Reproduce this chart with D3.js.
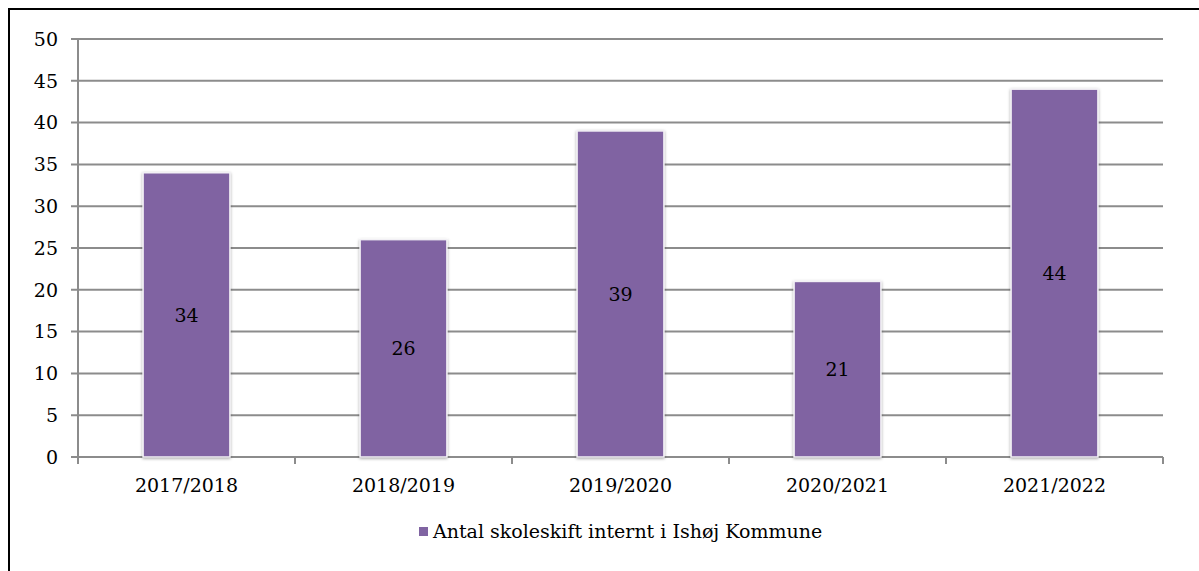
<!DOCTYPE html>
<html>
<head>
<meta charset="utf-8">
<script src="https://cdn.jsdelivr.net/npm/d3@7"></script>
<style>
  body { margin: 0; background: #fff; }
  svg { display: block; font-family: "DejaVu Serif", serif; }
</style>
</head>
<body>
<svg width="1199" height="571"></svg>
<script>
// Chart data
const seasons = ["2017/2018", "2018/2019", "2019/2020", "2020/2021", "2021/2022"];
const schoolChanges = [34, 26, 39, 21, 44];
const yTicks = [0, 5, 10, 15, 20, 25, 30, 35, 40, 45, 50];
const seriesName = "Antal skoleskift internt i Ishøj Kommune";

const BAR_COLOR = "#8064a2";
const GRID_COLOR = "#8c8c8c";

const svg = d3.select("svg");
const W = +svg.attr("width");
const H = +svg.attr("height");
const margin = { top: 39, right: 36, bottom: 114, left: 78 };
const width = W - margin.left - margin.right;
const height = H - margin.top - margin.bottom;

// frame around the figure
svg.append("path")
    .attr("d", `M9,${H} V9 H${W}`)
    .attr("fill", "none")
    .attr("stroke", "#000")
    .attr("stroke-width", 2);

// soft drop shadow for bars
const defs = svg.append("defs");
const f = defs.append("filter").attr("id", "shadow")
    .attr("x", "-20%").attr("y", "-5%").attr("width", "140%").attr("height", "110%");
f.append("feDropShadow")
    .attr("dx", 0).attr("dy", 1)
    .attr("stdDeviation", 1.5)
    .attr("flood-color", "#000")
    .attr("flood-opacity", 0.35);

const g = svg.append("g").attr("transform", `translate(${margin.left},${margin.top})`);

const y = d3.scaleLinear().domain([0, 50]).range([height, 0]);
const x = d3.scaleBand().domain(seasons).range([0, width]).paddingInner(0.6).paddingOuter(0.3);
const xCat = d3.scaleBand().domain(seasons).range([0, width]).padding(0);

// gridlines
g.selectAll("line.grid")
    .data(yTicks)
    .join("line")
    .attr("class", "grid")
    .attr("x1", -7)
    .attr("x2", width)
    .attr("y1", d => y(d))
    .attr("y2", d => y(d))
    .attr("stroke", GRID_COLOR)
    .attr("stroke-width", 2);

// y axis line
g.append("line")
    .attr("x1", 0).attr("x2", 0)
    .attr("y1", 0).attr("y2", height + 7)
    .attr("stroke", GRID_COLOR)
    .attr("stroke-width", 2);

// y tick labels
g.selectAll("text.ytick")
    .data(yTicks)
    .join("text")
    .attr("class", "ytick")
    .attr("x", -20)
    .attr("y", d => y(d))
    .attr("dy", "0.36em")
    .attr("text-anchor", "end")
    .attr("font-size", "19px")
    .attr("fill", "#000")
    .text(d => d);

// category boundary ticks
const boundaries = seasons.map(s => xCat(s)).concat([width]);
g.selectAll("line.xtick")
    .data(boundaries)
    .join("line")
    .attr("class", "xtick")
    .attr("x1", d => d).attr("x2", d => d)
    .attr("y1", height).attr("y2", height + 7)
    .attr("stroke", GRID_COLOR)
    .attr("stroke-width", 2);

// bars
g.selectAll("rect.bar")
    .data(schoolChanges)
    .join("rect")
    .attr("class", "bar")
    .attr("x", (d, i) => x(seasons[i]))
    .attr("y", d => y(d))
    .attr("width", x.bandwidth())
    .attr("height", d => height - y(d))
    .attr("fill", BAR_COLOR)
    .attr("stroke", "#f2f0f5")
    .attr("stroke-width", 1.5)
    .attr("filter", "url(#shadow)");

// value labels
g.selectAll("text.value")
    .data(schoolChanges)
    .join("text")
    .attr("class", "value")
    .attr("x", (d, i) => x(seasons[i]) + x.bandwidth() / 2)
    .attr("y", d => (y(d) + height) / 2)
    .attr("dy", "0.36em")
    .attr("text-anchor", "middle")
    .attr("font-size", "19px")
    .attr("fill", "#000")
    .text(d => d);

// category labels
g.selectAll("text.xlabel")
    .data(seasons)
    .join("text")
    .attr("class", "xlabel")
    .attr("x", d => xCat(d) + xCat.bandwidth() / 2)
    .attr("y", height + 35)
    .attr("text-anchor", "middle")
    .attr("font-size", "19px")
    .attr("fill", "#000")
    .text(d => d);

// legend
const legend = svg.append("g").attr("transform", "translate(419,527)");
legend.append("rect")
    .attr("width", 9).attr("height", 9)
    .attr("fill", BAR_COLOR);
legend.append("text")
    .attr("x", 14)
    .attr("y", 11)
    .attr("font-size", "19px")
    .attr("fill", "#000")
    .text(seriesName);
</script>
</body>
</html>
